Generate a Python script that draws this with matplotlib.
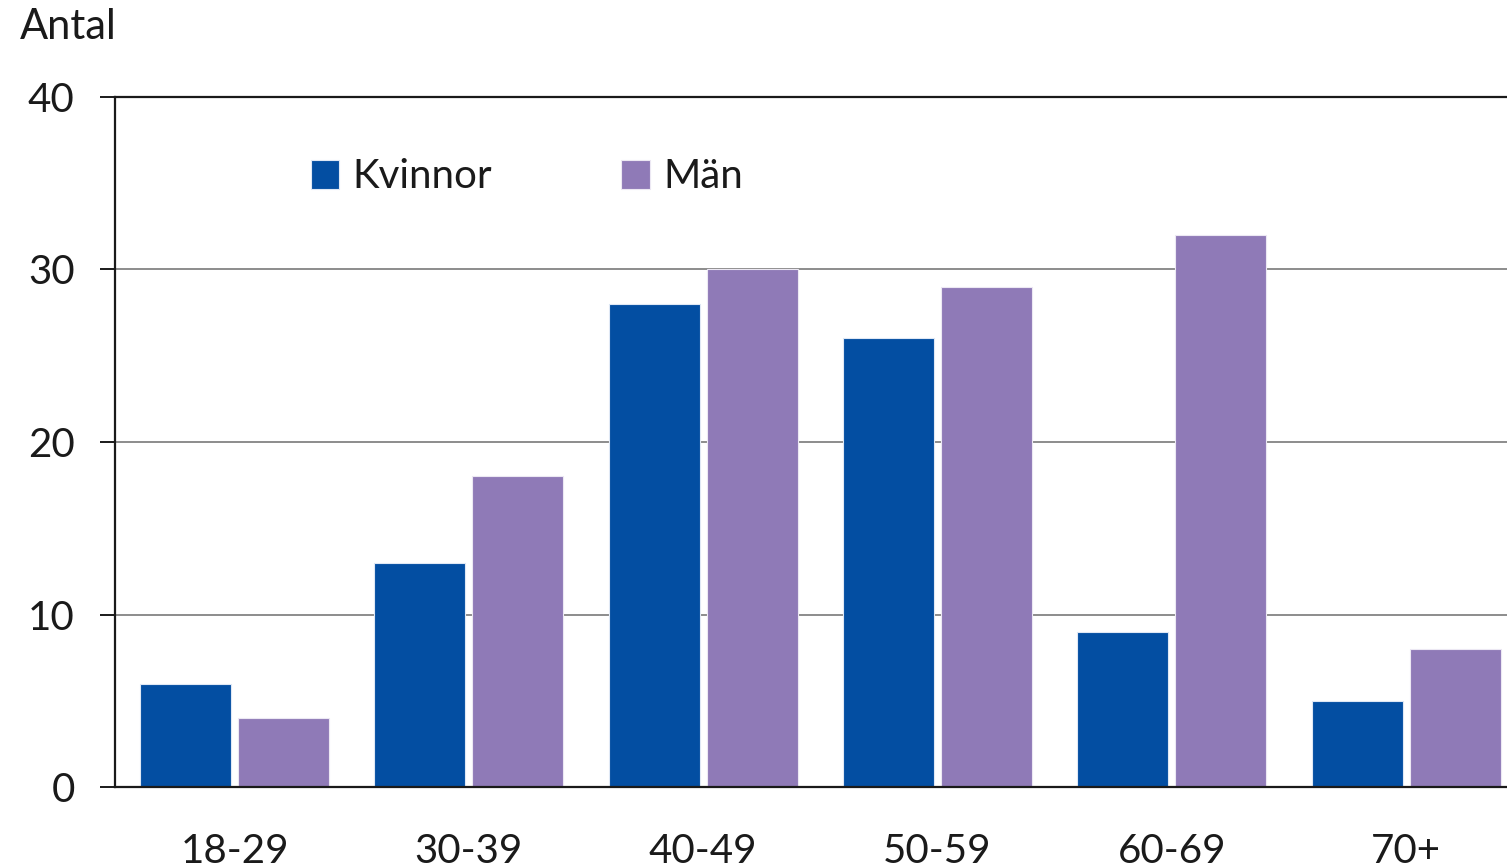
import numpy as np
import matplotlib.pyplot as plt

plt.rcParams['font.family'] = ['Lato', 'DejaVu Sans']

# Data
age_groups = ['18-29', '30-39', '40-49', '50-59', '60-69', '70+']
kvinnor = [6, 13, 28, 26, 9, 5]
man = [4, 18, 30, 29, 32, 8]

blue = '#034ea2'
purple = '#8f7ab7'
text_col = '#1a1a1a'

fig = plt.figure(figsize=(15.07, 8.68), dpi=100)
ax = fig.add_axes([115 / 1507, 1 - 787 / 868, 1 - 115 / 1507, (787 - 97) / 868])

x = np.arange(len(age_groups))
w = 0.388
b1 = ax.bar(x - 0.209, kvinnor, w, color=blue, edgecolor='#dfe8f5', linewidth=0.8,
            label='Kvinnor', zorder=3)
b2 = ax.bar(x + 0.209, man, w, color=purple, edgecolor='#ece8f3', linewidth=0.8,
            label='Män', zorder=3)

ax.set_xlim(-0.51, 5.43)
ax.set_ylim(0, 40)
ax.set_yticks([0, 10, 20, 30, 40])
ax.set_xticks(x)
ax.set_xticklabels(age_groups)

ax.yaxis.grid(True, color='#8c8c8c', linewidth=1.4, zorder=0)
ax.set_axisbelow(True)

for s in ['left', 'bottom', 'top']:
    ax.spines[s].set_color('#1a1a1a')
    ax.spines[s].set_linewidth(1.6)
ax.spines['right'].set_visible(False)
ax.spines['bottom'].set_zorder(4)

ax.tick_params(axis='y', length=11, width=1.4, color='#1a1a1a', pad=18,
               labelsize=29, labelcolor=text_col)
ax.tick_params(axis='x', length=0, pad=33, labelsize=29, labelcolor=text_col)

fig.text(20 / 1507, 1 - 8 / 868, 'Antal', fontsize=30, color=text_col,
         ha='left', va='top')

ax.legend(handles=[b1, b2], ncol=2, loc='center',
          bbox_to_anchor=(527 / 1507, 1 - 177 / 868), bbox_transform=fig.transFigure,
          frameon=False, fontsize=29, handlelength=0.7, handleheight=0.7,
          handletextpad=0.35, columnspacing=3.2, labelcolor=text_col)

fig.savefig('out.png', dpi=100)
